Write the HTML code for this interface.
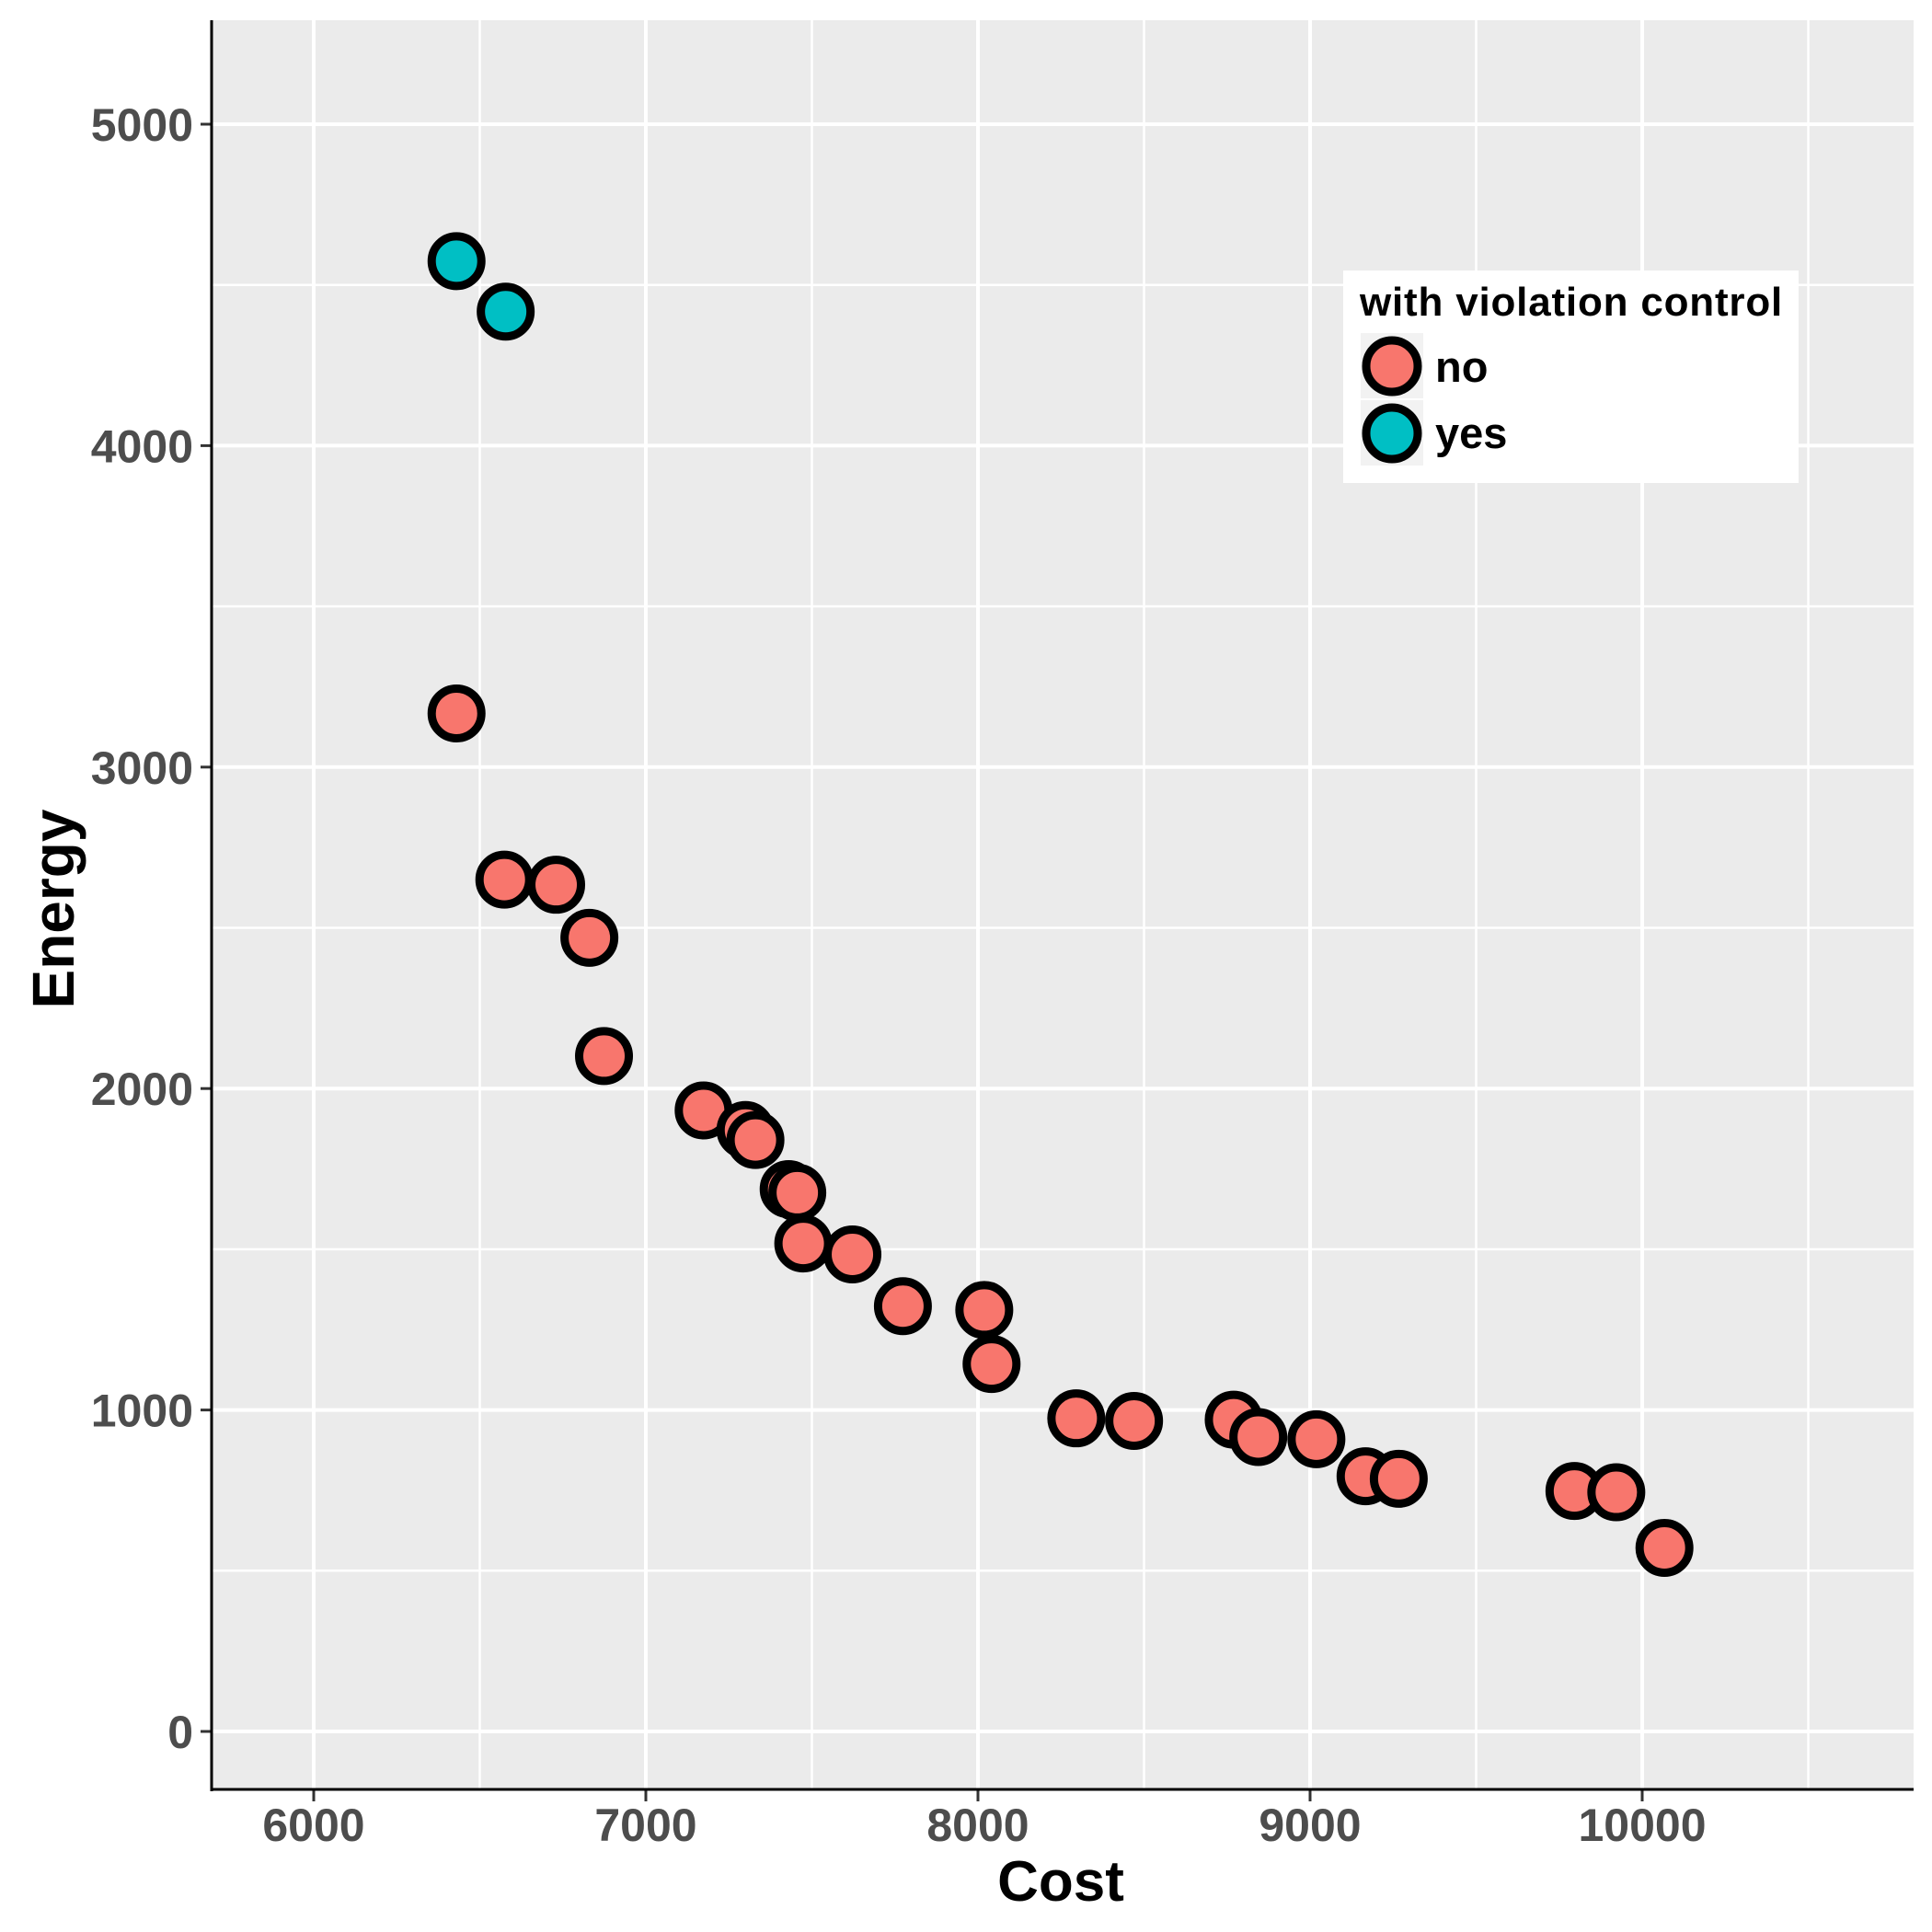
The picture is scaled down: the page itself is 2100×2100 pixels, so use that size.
<!DOCTYPE html>
<html><head><meta charset="utf-8"><style>
html,body{margin:0;padding:0;background:#fff;}
svg{display:block;}
text{font-family:"Liberation Sans",sans-serif;font-weight:bold;}
</style></head><body>
<svg id="chart" width="2100" height="2100" viewBox="0 0 2100 2100" xmlns="http://www.w3.org/2000/svg">
<rect x="231" y="22" width="1849" height="1923" fill="#EBEBEB"/>
<g id="grid"></g>
<g id="points"></g>
<g id="axes"></g>
<text x="1153" y="2066" font-size="62" text-anchor="middle" fill="#000">Cost</text>
<text x="0" y="0" font-size="64" text-anchor="middle" fill="#000" transform="translate(80,988) rotate(-90)">Energy</text>
<g>
<rect x="1460" y="294" width="495" height="231" fill="#fff"/>
<text x="1478" y="343" font-size="44" letter-spacing="0.8" fill="#000">with violation control</text>
<g>
<rect x="1479" y="362" width="68" height="71" fill="#F2F2F2"/>
<circle cx="1513" cy="398" r="28" fill="#F8766D" stroke="#000" stroke-width="9"/>
<text x="1560" y="415" font-size="47" fill="#000">no</text>
</g>
<g>
<rect x="1479" y="435" width="68" height="71" fill="#F2F2F2"/>
<circle cx="1513" cy="471" r="28" fill="#00BFC4" stroke="#000" stroke-width="9"/>
<text x="1560" y="487" font-size="47" fill="#000">yes</text>
</g>
</g>
</svg>
<script>
const costNo = [6430,6574,6730,6830,6874,7174,7300,7330,7430,7456,7474,7622,7774,8019,8041,8296,8470,8770,8844,9019,9167,9267,9796,9922,10067];
const energyNo = [3167,2650,2634,2469,2101,1932,1871,1840,1687,1676,1518,1484,1323,1311,1143,974,966,970,916,909,794,786,748,744,571];
const costYes = [6430,6578];
const energyYes = [4574,4417];
const xTicks = [6000,7000,8000,9000,10000];
const xMinor = [6500,7500,8500,9500,10500];
const yTicks = [0,1000,2000,3000,4000,5000];
const yMinor = [500,1500,2500,3500,4500];

const NS = "http://www.w3.org/2000/svg";
function xs(v){return 341 + (v-6000)*0.361;}
function ys(v){return 1882 - v*0.3494;}
function mk(tag, attrs, parent){const e=document.createElementNS(NS,tag);for(const k in attrs)e.setAttribute(k,attrs[k]);parent.appendChild(e);return e;}
const grid=document.getElementById('grid'), pts=document.getElementById('points'), axes=document.getElementById('axes');
xMinor.forEach(v=>{const l=mk('line',{x1:xs(v),x2:xs(v),y1:22,y2:1945,stroke:'#fff','stroke-width':2.5},grid);

});
yMinor.forEach(v=>{const l=mk('line',{x1:231,x2:2080,y1:ys(v),y2:ys(v),stroke:'#fff','stroke-width':2.5},grid);

});
xTicks.forEach(v=>{const l=mk('line',{x1:xs(v),x2:xs(v),y1:22,y2:1945,stroke:'#fff','stroke-width':4},grid);


const t=mk('line',{x1:xs(v),x2:xs(v),y1:1945,y2:1958,stroke:'#333','stroke-width':3},axes);


const tx=mk('text',{x:xs(v),y:2001,'font-size':50,'text-anchor':'middle',fill:'#4D4D4D'},axes);tx.textContent=v;

});
yTicks.forEach(v=>{const l=mk('line',{x1:231,x2:2080,y1:ys(v),y2:ys(v),stroke:'#fff','stroke-width':4},grid);


const t=mk('line',{x1:218,x2:231,y1:ys(v),y2:ys(v),stroke:'#333','stroke-width':3},axes);


const tx=mk('text',{x:210,y:ys(v)+18,'font-size':50,'text-anchor':'end',fill:'#4D4D4D'},axes);tx.textContent=v;

});
const ax1=mk('line',{x1:230,x2:230,y1:22,y2:1947,stroke:'#000','stroke-width':3},axes);


const ax2=mk('line',{x1:229,x2:2080,y1:1945,y2:1945,stroke:'#000','stroke-width':3},axes);


function drawPts(cx,cy,color,name){cx.forEach((v,i)=>{const c=mk('circle',{cx:xs(v),cy:ys(cy[i]),r:27,fill:color,stroke:'#000','stroke-width':9},pts);

});}
drawPts(costNo,energyNo,'#F8766D','point-no');
drawPts(costYes,energyYes,'#00BFC4','point-yes');
</script>
</body></html>
